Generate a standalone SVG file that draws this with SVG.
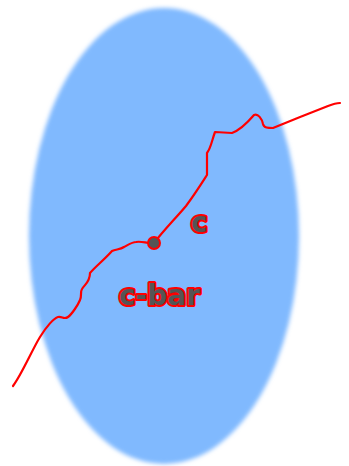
<svg xmlns="http://www.w3.org/2000/svg" width="349" height="466" viewBox="0 0 349 466">
<defs>
<filter id="blur" x="-10%" y="-10%" width="120%" height="120%"><feGaussianBlur stdDeviation="2"/></filter>
<style>
.lbl{font-family:"DejaVu Sans",sans-serif;font-weight:bold;font-size:28px;fill:#555;stroke:#ff0000;stroke-width:4;paint-order:stroke;stroke-linejoin:round}
.curve{fill:none;stroke:#ff0000;stroke-width:2.2;stroke-linejoin:round;stroke-linecap:round}
</style>
</defs>
<g id="region">
<ellipse cx="164" cy="236" rx="135" ry="228" fill="#80b9fe" filter="url(#blur)"/>
</g>
<g id="connectors">
<path class="curve" d="M13,386 C22,374 32,350 40,337 C46,327 54,318 58,317 C62,316 64,320 68,317 C72,314 78,305 80,300 C82,296 80,292 82,289 C85,284 90,282 90,273 C96,266 104,260 112,251 C116,249 120,250 124,247 C128,245 132,242 136,242 C141,241 146,243 150,243 L154,243 C164,230 175,219 186,206 C195,194 200,186 207,175 L207,153 C211,148 212,140 215,132 L232,133 C240,130 248,122 254,115 C258,113 262,119 263,124 C264,128 268,128 273,128 C290,121 310,113 328,106 C333,104 336,103 340,103"/>
</g>
<g id="point">
<circle cx="154" cy="243" r="6" fill="#555" stroke="#ff0000" stroke-width="2"/>
</g>
<g id="label-c"><text class="lbl" x="191" y="232">c</text></g>
<g id="label-cbar"><text class="lbl" x="119" y="305">c-bar</text></g>
</svg>
